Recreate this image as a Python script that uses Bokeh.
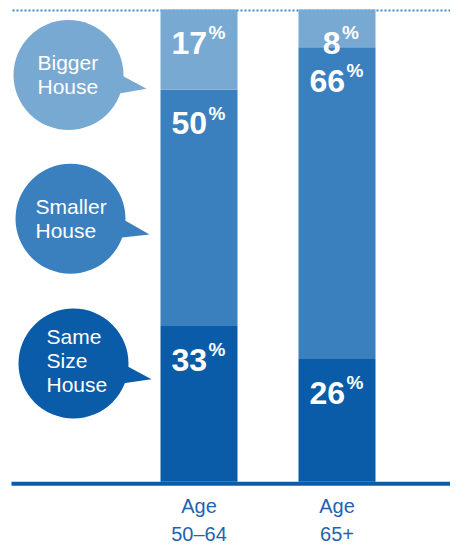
from bokeh.plotting import figure
from bokeh.models import Range1d, ColumnDataSource
from bokeh.embed import file_html
from bokeh.resources import INLINE
from bokeh.core.properties import value

# ---- data ----
categories = ["Age\n50–64", "Age\n65+"]
series = ["Same Size House", "Smaller House", "Bigger House"]
bubble_labels = ["Same\nSize\nHouse", "Smaller\nHouse", "Bigger\nHouse"]
same_size = [33, 26]
smaller = [50, 66]
bigger = [17, 8]
colors = ["#0A5BA8", "#3A80BE", "#78A9D3"]

# ---- layout helpers (reference pixel -> data) ----
W, H = 450, 544
K = 0.978          # vertical compression so everything fits
PX_X = 138.0       # px per category step
PX_Y = 4.83 * K    # px per percentage point
X0 = 198.5         # x of first category centre
TOP = 9.0          # y of 100 %
TEXT_DY = -9       # correction for text baseline placement


def X(px):
    return (px - X0) / PX_X


def FY(ref_y):
    return TOP + (ref_y - TOP) * K


def Yf(fig_y):
    return 100 - (fig_y - TOP) / PX_Y


def R(ref_y):
    return Yf(FY(ref_y))


def RT(ref_y):
    return Yf(FY(ref_y) + TEXT_DY)


FONT = value("Liberation Sans")

p = figure(width=W, height=H, output_backend="svg", toolbar_location=None,
           x_range=Range1d(X(0), X(W)), y_range=Range1d(Yf(H), Yf(0)),
           x_axis_type=None, y_axis_type=None, min_border=0)
p.grid.visible = False
p.outline_line_color = None
p.background_fill_color = "white"
p.border_fill_color = "white"

# dotted top line (100 %)
p.line([X(12), X(466)], [R(10), R(10)], line_color="#3F88C8", line_width=2,
       line_dash="2 2")

# stacked bars
xs = list(range(len(categories)))
data = {"x": xs, series[0]: same_size, series[1]: smaller, series[2]: bigger}
src = ColumnDataSource(data)
p.vbar_stack(series, x="x", width=77 / PX_X, color=colors, line_width=0,
             source=src)

# baseline
p.line([X(11), X(466)], [R(494), R(494)], line_color="#0B5CA8", line_width=4)

# percentage labels
vals = [same_size, smaller, bigger]
lx, ly, lt, loff, px_, py_, poff = [], [], [], [], [], [], []
for i in xs:
    cum = 0
    for j in range(len(series)):
        v = vals[j][i]
        top = cum + v
        cum = top
        s = str(v)
        split = 8.0 if len(s) >= 2 else 3.5
        lx.append(i)
        ly.append(top - (43.5 * K + TEXT_DY) / PX_Y)
        lt.append(s)
        loff.append(split)
        px_.append(i)
        py_.append(top - (33.0 * K + TEXT_DY) / PX_Y)
        poff.append(split + 1.5)

p.text(x=lx, y=ly, text=lt, x_offset=loff, text_align="right",
       text_baseline="alphabetic", text_color="white", text_font=FONT,
       text_font_size="32px", text_font_style="bold")
p.text(x=px_, y=py_, text=["%"] * len(px_), x_offset=poff, text_align="left",
       text_baseline="alphabetic", text_color="white", text_font=FONT,
       text_font_size="19px", text_font_style="bold")

# speech bubbles (legend)
centers = [(73, 371), (70, 223), (68, 76)]
tails = [
    [(118, 369), (151, 387), (118, 392)],
    [(115, 219), (149, 239), (115, 243)],
    [(113, 72), (146, 90), (113, 96)],
]
text_left = [46, 35, 37]
first_base = [353, 220, 72.5]
LINE_STEP = 24.5

p.scatter([X(c[0]) for c in centers], [R(c[1]) for c in centers],
          marker="circle", size=110, fill_color=colors, line_color=None)
p.patches([[X(a) for a, b in t] for t in tails],
          [[R(b) for a, b in t] for t in tails],
          fill_color=colors, line_color=None)

bx, by, bt = [], [], []
for j, lab in enumerate(bubble_labels):
    for k, line in enumerate(lab.split("\n")):
        bx.append(X(text_left[j]))
        by.append(RT(first_base[j] + k * LINE_STEP))
        bt.append(line)
p.text(x=bx, y=by, text=bt, text_align="left", text_baseline="alphabetic",
       text_color="white", text_font=FONT, text_font_size="21px")

# category labels (placed in figure pixels so both lines fit)
cx, cy, ct = [], [], []
for i, cat in enumerate(categories):
    for k, line in enumerate(cat.split("\n")):
        cx.append(i)
        cy.append(Yf(514 + k * 28.5 + TEXT_DY))
        ct.append(line)
p.text(x=cx, y=cy, text=ct, text_align="center", text_baseline="alphabetic",
       text_color="#1F64AE", text_font=FONT, text_font_size="20px")

open("out.html", "w").write(file_html(p, INLINE))
